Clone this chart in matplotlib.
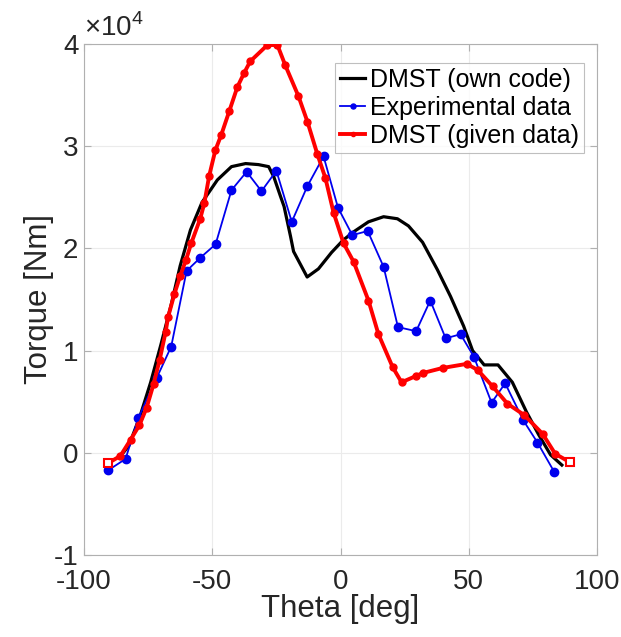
import matplotlib
matplotlib.use("Agg")
import matplotlib.pyplot as plt
from matplotlib.ticker import FuncFormatter

plt.rcParams['font.family'] = ['Liberation Sans', 'DejaVu Sans']
plt.rcParams['axes.unicode_minus'] = False
plt.rcParams['mathtext.fontset'] = 'custom'
plt.rcParams['mathtext.rm'] = 'Liberation Sans'

# DMST (own code)
theta_own = [-86, -82.5, -78, -74, -70, -66, -62.5, -58.5, -54, -48, -42.5, -37, -32, -28, -26,
             -23.4, -22, -19.5, -18.3, -13, -8.6, -3.5, 1, 5, 10.9, 16.8, 22.2, 26.5, 32, 37.8,
             42.9, 48, 51.5, 56, 61.4, 67, 72.5, 77.2, 81.9, 86.3]
torque_own = [-400, 700, 3700, 6900, 10600, 14500, 18300, 21800, 24500, 26700, 28000, 28300, 28200,
              28000, 27000, 25100, 24100, 21200, 19700, 17200, 18000, 19600, 20800, 21600, 22600,
              23100, 22900, 22200, 20600, 17900, 15300, 12400, 10000, 8600, 8600, 6900, 4000,
              1800, -200, -1200]

# Experimental data
theta_exp = [-90.5, -83.8, -78.8, -71.7, -66, -60, -54.6, -48.7, -42.5, -36.6, -30.8, -25, -19,
             -12.9, -6.6, -1, 4.6, 10.6, 16.8, 22.4, 29.5, 35, 41, 46.8, 52, 58.9, 64.2, 71.2,
             76.8, 83.4]
torque_exp = [-1700, -600, 3400, 7300, 10400, 17800, 19100, 20400, 25700, 27500, 25600, 27600,
              22600, 26100, 29000, 24000, 21300, 21700, 18200, 12300, 11900, 14900, 11200, 11600,
              9400, 4900, 6800, 3200, 1000, -1900]

# DMST (given data)
theta_giv = [-90.5, -85.8, -81.8, -78.4, -75.6, -72.9, -70.5, -68.2, -67.2, -64.8, -62.5, -60.2,
             -58.2, -54.7, -53.1, -51.2, -48.8, -46.5, -43.4, -40.2, -37.5, -35.2, -28.5, -24.6,
             -21.5, -16.4, -12.9, -9, -5.9, -2.7, 1.2, 5.1, 10.9, 14.8, 20.3, 23.8, 29.3, 32,
             39.8, 49.2, 53.5, 59.3, 65.1, 71.6, 78.8, 83.7, 89.3]
torque_giv = [-1000, -300, 1300, 2700, 4400, 6700, 9100, 11800, 13300, 15500, 17300, 18900,
              20500, 22900, 24400, 27100, 29600, 31100, 33400, 35800, 37200, 38300, 39900, 39900,
              37900, 34900, 32400, 29200, 26900, 23500, 20500, 18700, 14900, 11600, 8400, 6900,
              7500, 7800, 8300, 8700, 8100, 6500, 4800, 3700, 1850, -100, -900]

xticks = [-100, -50, 0, 50, 100]
yticks = [-10000, 0, 10000, 20000, 30000, 40000]

fig = plt.figure(figsize=(6.21, 6.37), dpi=100)
ax = fig.add_axes([84/621, 1-555/637, (597-84)/621, (555-44)/637])

txt = '#262626'
ax.plot(theta_own, torque_own, color='black', lw=2.3, label='DMST (own code)', zorder=3)
ax.plot(theta_exp, torque_exp, color='#0000ee', lw=1.3, marker='o', ms=6,
        label='Experimental data', zorder=4)
ax.plot(theta_giv, torque_giv, color='#ff0000', lw=2.8, marker='o', ms=5,
        label='DMST (given data)', zorder=5)
ax.plot([theta_giv[0], theta_giv[-1]], [torque_giv[0], torque_giv[-1]], ls='none',
        marker='s', ms=6, mfc='white', mec='#ff0000', mew=1.5, zorder=6)

ax.set_xlim(-100, 100)
ax.set_ylim(-10000, 40000)
ax.set_xticks(xticks)
ax.set_yticks(yticks)
ax.yaxis.set_major_formatter(FuncFormatter(lambda v, p: f"{v/1e4:g}"))
ax.xaxis.set_major_formatter(FuncFormatter(lambda v, p: f"{v:g}"))
ax.grid(True, color='#ebebeb', lw=0.8)
ax.set_axisbelow(True)
for s in ax.spines.values():
    s.set_color('#b0b0b0')
    s.set_linewidth(0.8)
ax.tick_params(direction='in', length=5, color='#b0b0b0', labelsize=20, labelcolor=txt,
               top=True, right=True)
ax.tick_params(axis='x', pad=10)
ax.tick_params(axis='y', pad=4)
ax.set_xlabel('Theta [deg]', fontsize=22.5, color=txt, labelpad=-1)
ax.set_ylabel('Torque [Nm]', fontsize=22.5, color=txt, labelpad=0)
ax.text(0.0, 1.003, r'$\times10^{4}$', transform=ax.transAxes, fontsize=20, color=txt,
        ha='left', va='bottom')

leg = ax.legend(loc='upper right', bbox_to_anchor=(584/621, 1-63/637), bbox_transform=fig.transFigure,
                fontsize=18, frameon=True, fancybox=False, edgecolor='#b0b0b0',
                handlelength=1.0, handletextpad=0.2, borderpad=0.2, labelspacing=0.15,
                borderaxespad=0, markerscale=0.6)
leg.get_frame().set_linewidth(0.8)
for t in leg.get_texts():
    t.set_color('black')

fig.savefig('out.png', dpi=100, facecolor='white')
